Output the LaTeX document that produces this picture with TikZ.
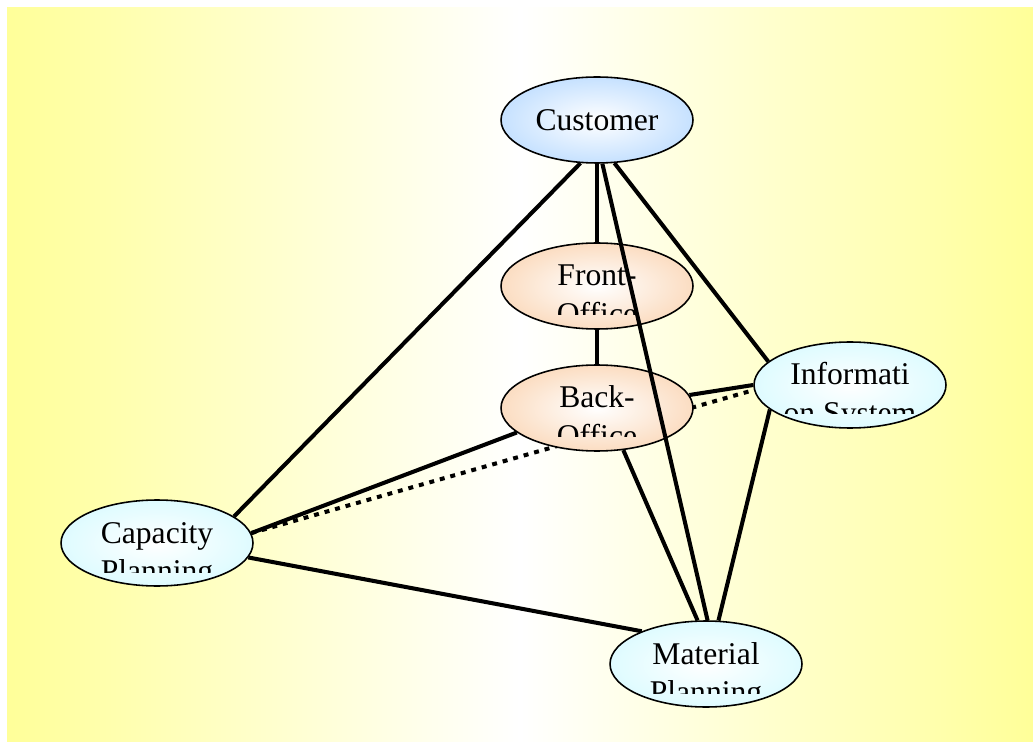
\documentclass[tikz,border=0pt]{standalone}
\usepackage{fontspec}
\setmainfont{Liberation Serif}
\usetikzlibrary{shapes.geometric}

\definecolor{paleyellow}{RGB}{255,255,153}
\definecolor{custblue}{RGB}{150,200,255}
\definecolor{officeorange}{RGB}{248,192,142}
\definecolor{plancyan}{RGB}{195,248,255}

\pgfdeclareradialshading{custfill}{\pgfpoint{0bp}{0bp}}{color(0bp)=(white); color(46bp)=(custblue); color(50bp)=(custblue)}
\pgfdeclareradialshading{officefill}{\pgfpoint{0bp}{0bp}}{color(0bp)=(white); color(46bp)=(officeorange); color(50bp)=(officeorange)}
\pgfdeclareradialshading{planfill}{\pgfpoint{0bp}{0bp}}{color(0bp)=(white); color(46bp)=(plancyan); color(50bp)=(plancyan)}

\pgfdeclarelayer{back}
\pgfdeclarelayer{edges}
\pgfsetlayers{back,edges,main}

\renewcommand{\arraystretch}{1.22}

\tikzset{
  blob/.style={ellipse, draw, line width=0.9pt, shade, minimum width=3.84cm, minimum height=1.72cm, inner sep=0pt},
  link/.style={line width=2.3pt},
  weaklink/.style={line width=2.3pt, dash pattern=on 2.8pt off 3.4pt},
  lbl/.style={anchor=base, inner sep=0pt}
}

\begin{document}
\begin{tikzpicture}[x=0.02cm, y=-0.02cm, font=\fontsize{18}{18}\selectfont]
  \useasboundingbox (0,0) rectangle (1033,742);
  \begin{pgfonlayer}{back}
    \fill[white] (0,0) rectangle (1033,742);
    \shade[left color=paleyellow, right color=paleyellow, middle color=white] (7,8) rectangle (1033,742);
  \end{pgfonlayer}

  \node[blob, shading=custfill] (cust) at (597,120) {Customer};
  \node[blob, shading=officefill] (front) at (597,286) {};
  \node[blob, shading=officefill] (back) at (597,408) {};
  \node[blob, shading=planfill] (info) at (850,385) {};
  \node[blob, shading=planfill] (cap) at (157,543) {};
  \node[blob, shading=planfill] (mat) at (706,664) {};

  % labels are cut off below the second line
  \foreach \n/\txt in {front/{Front-\\Office}, back/{Back-\\Office}, info/{Informati\\on System}, cap/{Capacity\\Planning}, mat/{Material\\Planning}} {
    \begin{scope}
      \clip (\n.center) ++(-100,-50) rectangle ++(200,79);
      \node[lbl] at (\n.center) {\begin{tabular}[t]{@{}c@{}}\txt\end{tabular}};
    \end{scope}
  }

  \begin{pgfonlayer}{edges}
    \draw[link] (cust.249) -- (cap.19.5);
    \draw[link] (cust.south) -- (front.north);
    \draw[link] (cust.292) -- (info.164);
    \draw[link] (front.south) -- (back.north);
    \draw[link] (back.8) -- (info.180);
    \draw[link] (back.197.5) -- (cap.6.7);
    \draw[weaklink] (cap.6) -- (info.183);
    \draw[link] (back.302) -- (mat.101);
    \draw[link] (info.197) -- (mat.74);
    \draw[link] (cap.351) -- (mat.153);
  \end{pgfonlayer}
  \draw[link] (cust.277) -- (mat.88.6);
\end{tikzpicture}
\end{document}
